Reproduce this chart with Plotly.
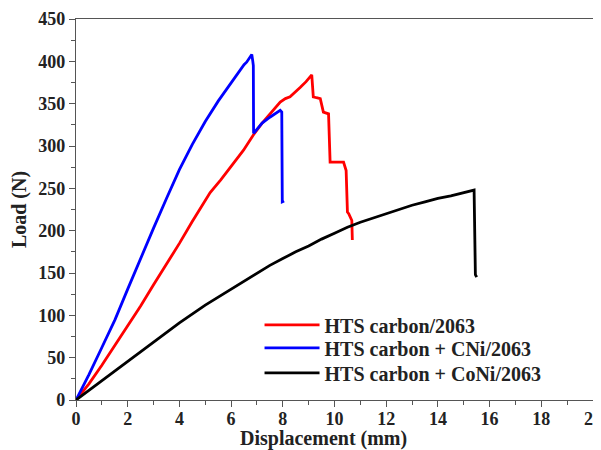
import plotly.graph_objects as go

# Data
red_x = [0, 0.5, 1, 1.5, 2, 2.5, 3, 3.5, 4, 4.48, 5.19, 5.6, 5.96, 6.2, 6.48, 6.86, 7.2, 7.51, 7.9, 8.1, 8.28, 8.67, 8.9, 9.12, 9.18, 9.3, 9.45, 9.57, 9.77, 9.83, 10.1, 10.35, 10.45, 10.5, 10.55, 10.67, 10.69]
red_y = [0, 19, 41, 64, 88, 111, 136, 160, 185, 210, 245, 260, 275, 284, 295, 313, 327, 338, 352, 356, 358, 369, 376, 384, 358, 357, 356, 340, 338, 281, 281, 281, 271, 222, 220, 212, 189]

blue_x = [0, 0.5, 1, 1.51, 2, 2.5, 3, 3.5, 4, 4.5, 5, 5.5, 6, 6.3, 6.5, 6.6, 6.7, 6.76, 6.8, 6.84, 6.86, 6.87, 6.95, 7.2, 7.5, 7.9, 7.96, 7.98, 8.05]
blue_y = [0, 30, 62, 95, 131, 168, 203, 238, 272, 302, 329, 353, 375, 387, 396, 399, 403, 406, 408, 400, 395, 315, 318, 327, 334, 342, 340, 234, 235]

black_x = [0, 1, 2, 3, 4, 5, 6, 7, 7.5, 8, 8.5, 9, 9.5, 10, 10.5, 11, 11.5, 12, 12.5, 13, 13.5, 14, 14.5, 15, 15.4, 15.45, 15.5]
black_y = [0, 23, 45, 68, 91, 112, 131, 150, 159, 167, 175, 182, 190, 197, 204, 210, 215, 220, 225, 230, 234, 238, 241, 245, 248, 148, 145]

series_names = ["HTS carbon/2063", "HTS carbon + CNi/2063", "HTS carbon + CoNi/2063"]
series_colors = ["#ff0000", "#0000ff", "#000000"]

x_ticks = [0, 2, 4, 6, 8, 10, 12, 14, 16, 18, 20]
y_ticks = [0, 50, 100, 150, 200, 250, 300, 350, 400, 450]

x_title = "Displacement (mm)"
y_title = "Load (N)"

FONT = "Liberation Serif"
TXT = "#222222"
legend_ids = ["legend", "legend2", "legend3"]
legend_y = [0.197, 0.137, 0.071]

fig = go.Figure()
for xs, ys, name, col, lg in zip([red_x, blue_x, black_x], [red_y, blue_y, black_y],
                                 series_names, series_colors, legend_ids):
    fig.add_trace(go.Scatter(x=xs, y=ys, mode="lines", name="<b>" + name + "</b>",
                             line=dict(color=col, width=2.8), legend=lg))

axis_common = dict(
    showgrid=False, zeroline=False, showline=True, linecolor="#555555", linewidth=1.2,
    mirror=True, ticks="outside", ticklen=6, tickwidth=1.2, tickcolor="#555555",
    tickfont=dict(family=FONT, size=18, color=TXT), automargin=False,
)

legend_common = dict(x=0.355, xanchor="left", yanchor="middle",
                     font=dict(family=FONT, size=20, color=TXT),
                     bgcolor="rgba(0,0,0,0)", borderwidth=0, itemwidth=55)

fig.update_layout(
    width=601, height=450,
    margin=dict(l=68, r=16, t=11, b=58),
    paper_bgcolor="white", plot_bgcolor="white",
    xaxis=dict(range=[0, 20], tickvals=x_ticks, ticktext=["<b>%d</b>" % v for v in x_ticks],
               minor=dict(ticks="outside", dtick=1, ticklen=4, tickcolor="#555555"),
               ticklabelstandoff=-4, **axis_common),
    yaxis=dict(range=[0, 450], tickvals=y_ticks, ticktext=["<b>%d</b>" % v for v in y_ticks],
               minor=dict(ticks="outside", dtick=25, ticklen=4, tickcolor="#555555"),
               title=dict(text="<b>" + y_title + "</b>", font=dict(family=FONT, size=20, color=TXT), standoff=13),
               **axis_common),
    legend=dict(y=legend_y[0], **legend_common),
    legend2=dict(y=legend_y[1], **legend_common),
    legend3=dict(y=legend_y[2], **legend_common),
    showlegend=True,
    annotations=[dict(text="<b>" + x_title + "</b>", xref="paper", yref="paper",
                      x=0.478, y=-0.1, xanchor="center", yanchor="middle", showarrow=False,
                      font=dict(family=FONT, size=20, color=TXT))],
)

fig.write_html("out.html")
